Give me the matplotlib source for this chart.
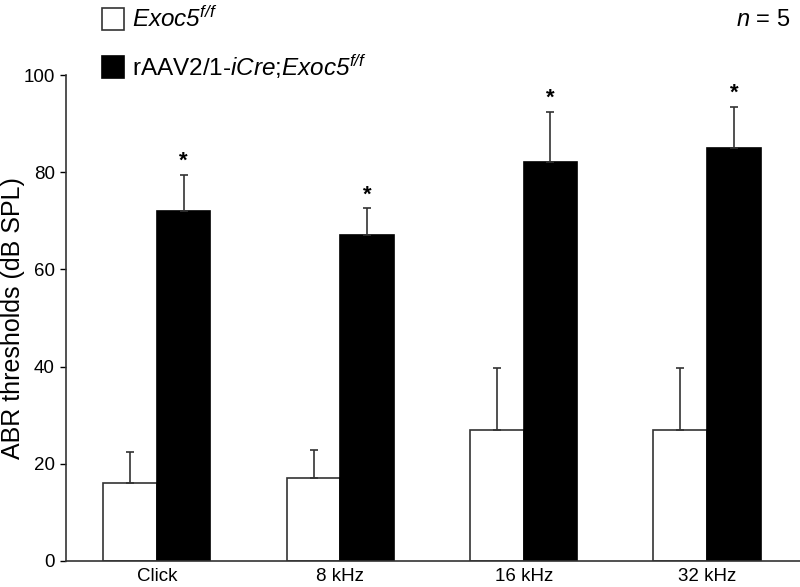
import matplotlib
matplotlib.use("Agg")
import matplotlib.pyplot as plt
from matplotlib.patches import Rectangle
import numpy as np

plt.rcParams["font.family"] = ["Liberation Sans", "DejaVu Sans"]
# mathtext only used for the italic gene names in the legend
plt.rcParams["mathtext.fontset"] = "custom"
plt.rcParams["mathtext.rm"] = "Liberation Sans:italic"
plt.rcParams["mathtext.it"] = "Liberation Sans:italic"

categories = ["Click", "8 kHz", "16 kHz", "32 kHz"]
ctrl_mean = [16, 17, 27, 27]
ctrl_err = [6.5, 5.8, 12.7, 12.7]
cre_mean = [72, 67, 82, 85]
cre_err = [7.5, 5.6, 10.4, 8.5]
signif = [True, True, True, True]

fig = plt.figure(figsize=(8, 5.87), dpi=100)
ax = fig.add_axes([0.0825, 0.0443, 0.9175, 0.8279])

x = np.arange(len(categories))
w = 0.292
ax.bar(x - w / 2, ctrl_mean, w, color="white", edgecolor="#333333", linewidth=1.2)
ax.bar(x + w / 2, cre_mean, w, color="black", edgecolor="black", linewidth=1.2)
ax.errorbar(x - w / 2, ctrl_mean, yerr=[np.zeros(4), ctrl_err], fmt="none",
            ecolor="#333333", elinewidth=1.2, capsize=3, capthick=1.2)
ax.errorbar(x + w / 2, cre_mean, yerr=[np.zeros(4), cre_err], fmt="none",
            ecolor="#333333", elinewidth=1.2, capsize=3, capthick=1.2)
for xi, m, e, s in zip(x, cre_mean, cre_err, signif):
    if s:
        ax.text(xi + w / 2, m + e + 0.6, "*", ha="center", va="bottom",
                fontsize=16, fontweight="bold")

ax.set_xlim(-0.496, 3.507)
ax.set_ylim(0, 100)
ax.set_yticks([0, 20, 40, 60, 80, 100])
ax.set_xticks(x)
ax.set_xticklabels(categories, fontsize=13.5)
ax.tick_params(axis="x", length=0, pad=5)
ax.tick_params(axis="y", labelsize=13.5, length=4, width=1, pad=4, direction="out")
for sp in ["top", "right"]:
    ax.spines[sp].set_visible(False)
for sp in ["left", "bottom"]:
    ax.spines[sp].set_color("#333333")
    ax.spines[sp].set_linewidth(1.2)

# y label placed by hand so it stays inside the left edge
fig.text(1 / 800, 1 - 318 / 587, "ABR thresholds (dB SPL)", rotation=90,
         fontsize=18, ha="left", va="center")

# legend drawn by hand
fig.patches.append(Rectangle((102 / 800, 1 - 30 / 587), 22 / 800, 22 / 587,
                             transform=fig.transFigure, facecolor="white",
                             edgecolor="#333333", linewidth=1.2))
fig.patches.append(Rectangle((102 / 800, 1 - 78 / 587), 22 / 800, 22 / 587,
                             transform=fig.transFigure, facecolor="black",
                             edgecolor="black", linewidth=1.2))
fig.text(132 / 800, 1 - 19 / 587, r"$Exoc5^{f/f}$",
         fontsize=17.5, va="center", ha="left")
fig.text(132 / 800, 1 - 67 / 587, r"rAAV2/1-$iCre$;$Exoc5^{f/f}$",
         fontsize=17.5, va="center", ha="left")
fig.text(790 / 800, 1 - 20 / 587, r"$n$ = 5", fontsize=17,
         va="center", ha="right")

fig.savefig("out.png", dpi=100)
